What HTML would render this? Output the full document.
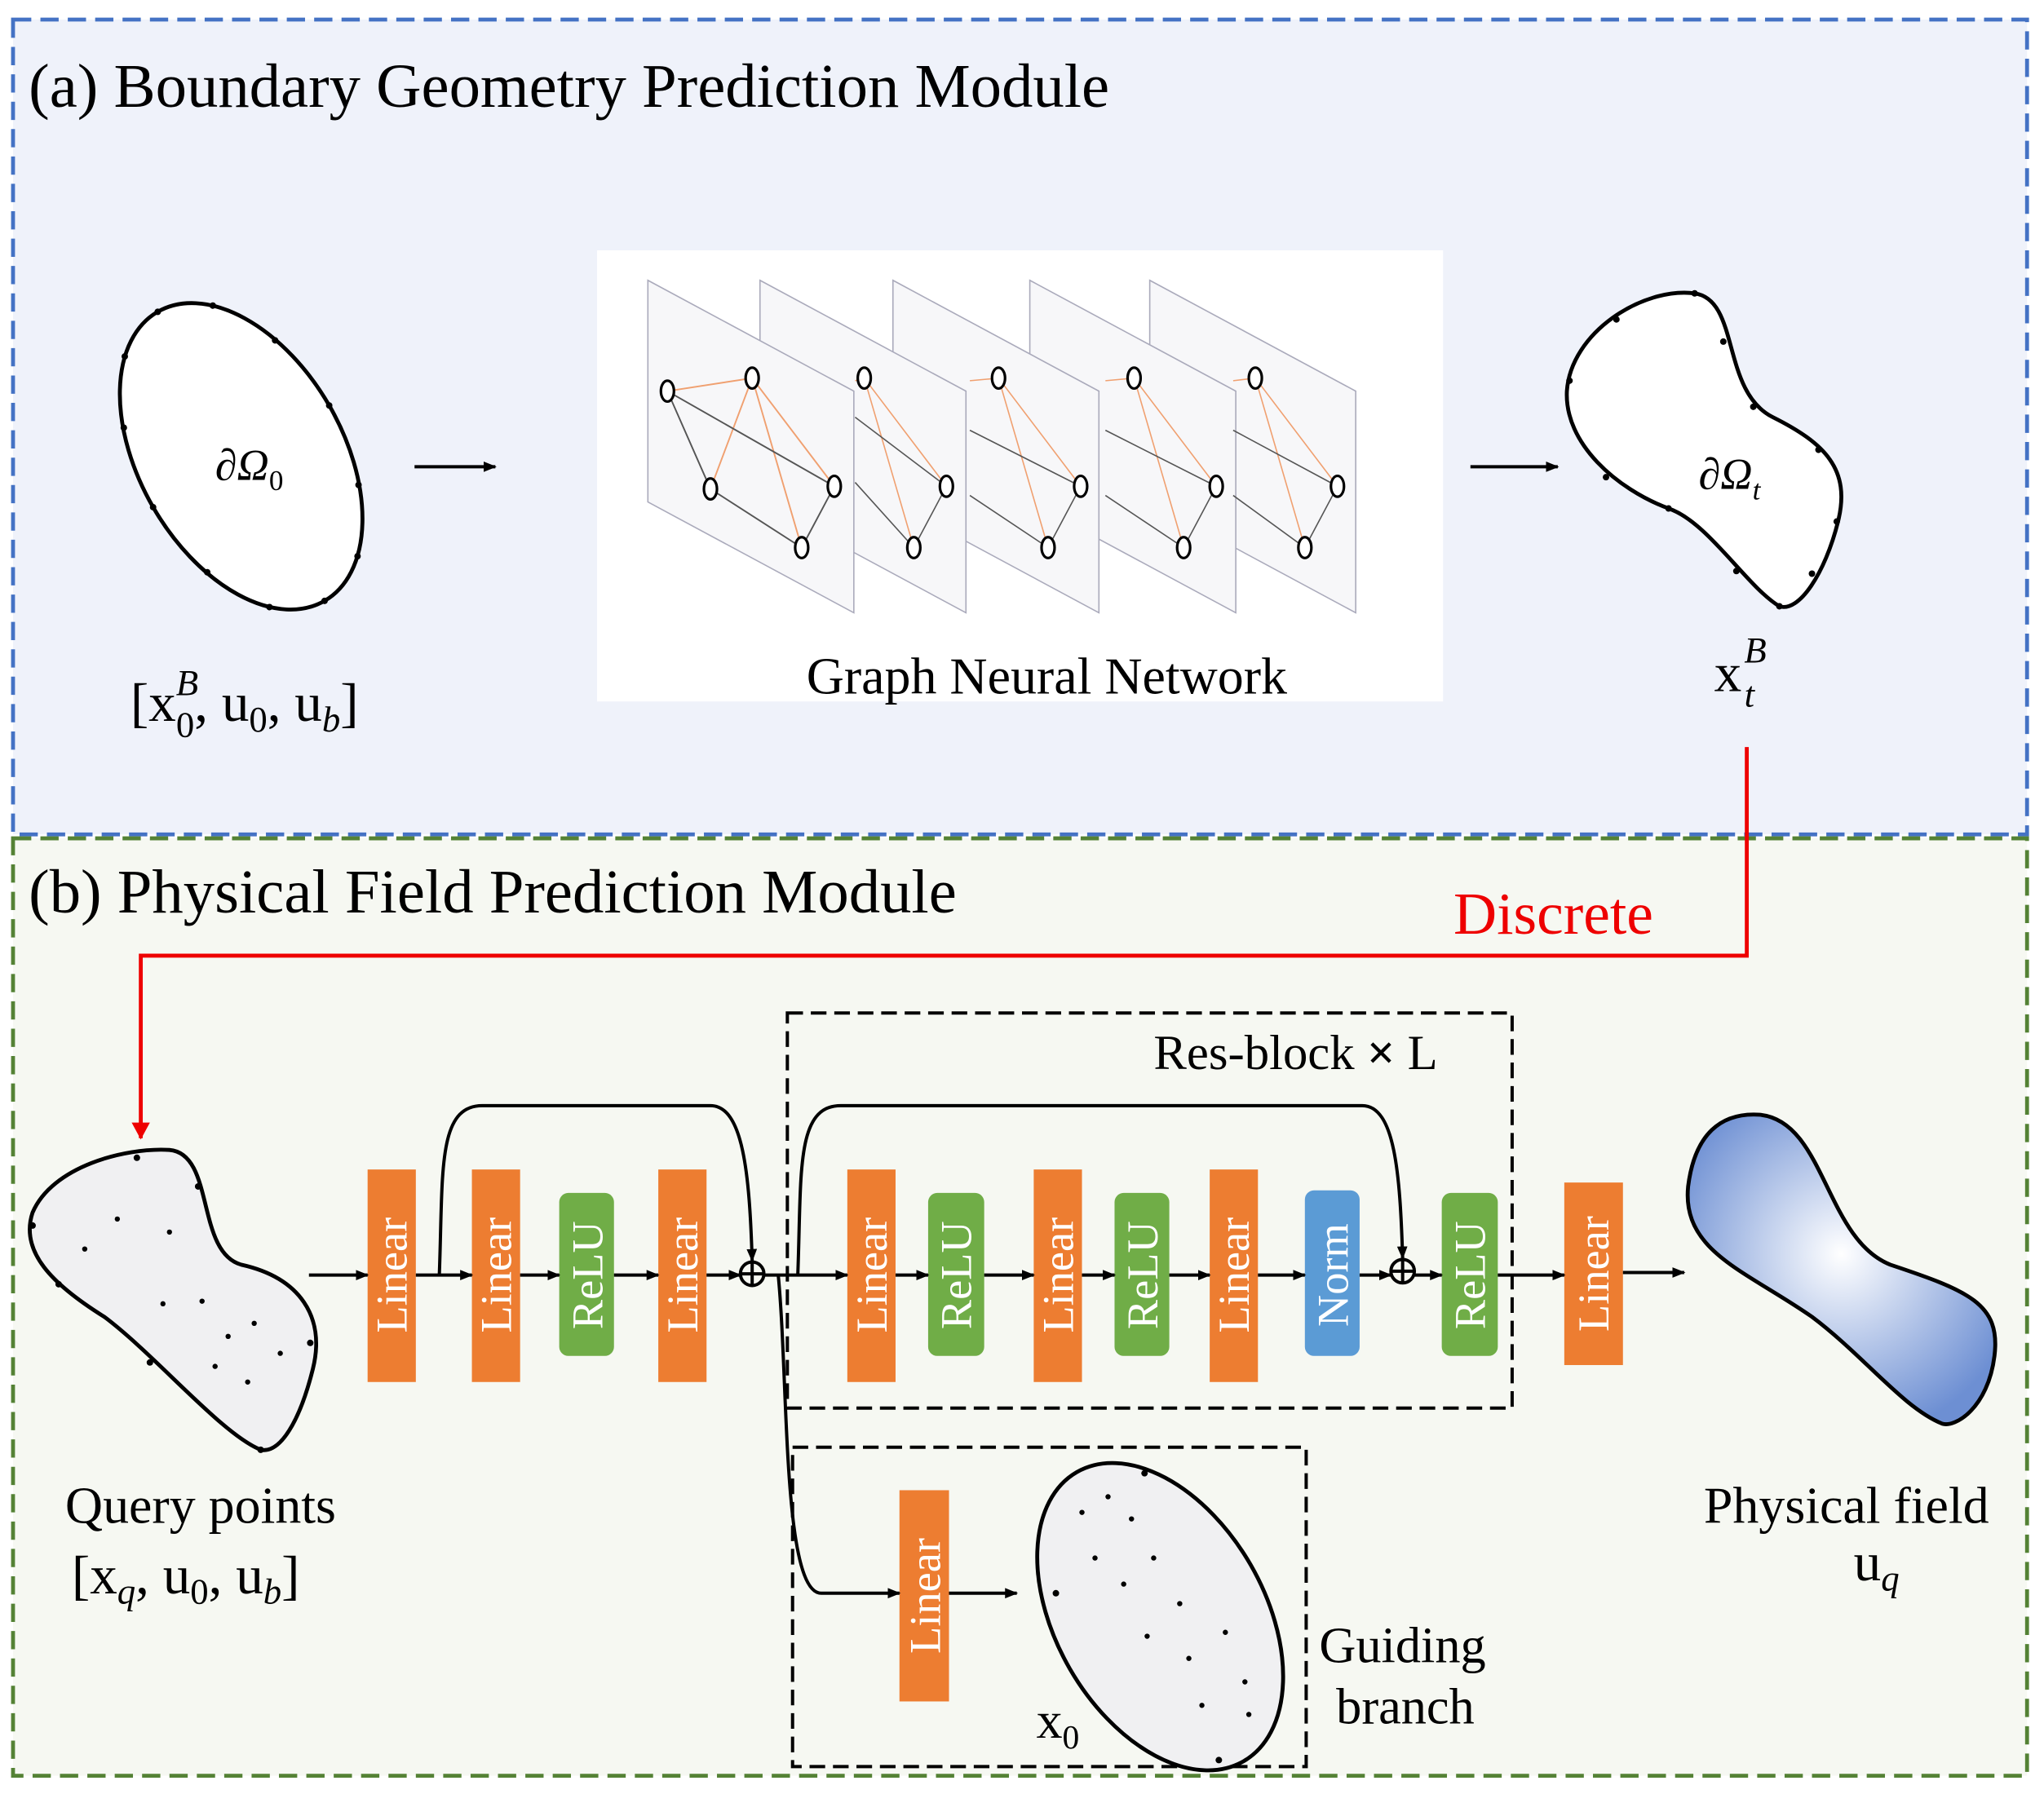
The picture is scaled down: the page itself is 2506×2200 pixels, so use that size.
<!DOCTYPE html>
<html><head><meta charset="utf-8"><style>html,body{margin:0;padding:0;background:#fff}svg{display:block}</style></head><body>
<svg width="2506" height="2200" viewBox="0 0 1568 1376" preserveAspectRatio="none" xmlns="http://www.w3.org/2000/svg" font-family="Liberation Serif, serif">
<defs>
<marker id="ar" markerWidth="10" markerHeight="10" refX="9" refY="5" orient="auto" markerUnits="userSpaceOnUse"><path d="M0,1 L10,5 L0,9 Z" fill="#000"/></marker>
<marker id="arr" markerWidth="14" markerHeight="14" refX="12" refY="7" orient="auto" markerUnits="userSpaceOnUse"><path d="M0,0 L13,7 L0,14 Z" fill="#e00"/></marker>
<radialGradient id="bg" cx="0.5" cy="0.45" r="0.6"><stop offset="0" stop-color="#fff"/><stop offset="1" stop-color="#6d8fd3"/></radialGradient>
</defs>
<rect x="10" y="15" width="1545" height="625" fill="#eff2fa" stroke="#4472c4" stroke-width="3" stroke-dasharray="14,7"/>
<rect x="10" y="643" width="1545" height="719" fill="#f6f8f2" stroke="#548235" stroke-width="3" stroke-dasharray="14,7"/>
<text x="22" y="82" font-size="48">(a) Boundary Geometry Prediction Module</text>
<text x="22" y="700" font-size="48">(b) Physical Field Prediction Module</text>
<!-- left ellipse -->
<g transform="translate(185,350) rotate(-30)">
<ellipse cx="0" cy="0" rx="78" ry="128" fill="#fff" stroke="#000" stroke-width="3"/>
<g fill="#000"><circle cx="78" cy="0" r="2.5"/><circle cx="67" cy="64" r="2.5"/><circle cx="39" cy="111" r="2.5"/><circle cx="0" cy="128" r="2.5"/><circle cx="-39" cy="111" r="2.5"/><circle cx="-67" cy="64" r="2.5"/><circle cx="-78" cy="0" r="2.5"/><circle cx="-67" cy="-64" r="2.5"/><circle cx="-39" cy="-111" r="2.5"/><circle cx="0" cy="-128" r="2.5"/><circle cx="39" cy="-111" r="2.5"/><circle cx="67" cy="-64" r="2.5"/></g>
</g>
<text x="165" y="368" font-size="34" font-style="italic">∂Ω<tspan font-size="22" font-style="normal" dy="8">0</tspan></text>
<text x="100" y="553" font-size="42">[x<tspan font-size="28" dy="-20" font-style="italic">B</tspan><tspan font-size="28" dx="-17" dy="32">0</tspan><tspan dy="-12">, u</tspan><tspan font-size="28" dy="8">0</tspan><tspan dy="-8">, u</tspan><tspan font-size="28" dy="8" font-style="italic">b</tspan><tspan dy="-8">]</tspan></text>
<line x1="318" y1="358" x2="380" y2="358" stroke="#000" stroke-width="2.5" marker-end="url(#ar)"/>
<!-- GNN -->
<rect x="458" y="192" width="649" height="346" fill="#fff"/>
<g stroke="#aab" stroke-width="1" fill="#f7f7f9">
<path d="M882,215 L1040,300 L1040,470 L882,385Z"/>
<path d="M790,215 L948,300 L948,470 L790,385Z"/>
<path d="M685,215 L843,300 L843,470 L685,385Z"/>
<path d="M583,215 L741,300 L741,470 L583,385Z"/>
<path d="M497,215 L655,300 L655,470 L497,385Z"/>
</g>
<g fill="none" stroke-width="1.2">
<path d="M512,300 L577,290 L640,373 M577,290 L545,375 M577,290 L615,420" stroke="#f0a070"/><path d="M512,300 L545,375 L615,420 L640,373 M512,300 L640,373" stroke="#555"/>
<g stroke="#000" stroke-width="2" fill="#fff"><ellipse cx="512" cy="300" rx="5" ry="8"/><ellipse cx="577" cy="290" rx="5" ry="8"/><ellipse cx="545" cy="375" rx="5" ry="8"/><ellipse cx="640" cy="373" rx="5" ry="8"/><ellipse cx="615" cy="420" rx="5" ry="8"/></g>
</g>
<g transform="translate(86,0)"><path d="M570,292 L577,290 L640,373 M577,290 L615,420" stroke="#f0a070" fill="none"/><path d="M570,320 L640,373 L615,420 L570,370" stroke="#555" fill="none"/><g stroke="#000" stroke-width="2" fill="#fff"><ellipse cx="577" cy="290" rx="5" ry="8"/><ellipse cx="640" cy="373" rx="5" ry="8"/><ellipse cx="615" cy="420" rx="5" ry="8"/></g></g>
<g transform="translate(189,0)"><path d="M555,292 L577,290 L640,373 M577,290 L615,420" stroke="#f0a070" fill="none"/><path d="M555,330 L640,373 L615,420 L555,380" stroke="#555" fill="none"/><g stroke="#000" stroke-width="2" fill="#fff"><ellipse cx="577" cy="290" rx="5" ry="8"/><ellipse cx="640" cy="373" rx="5" ry="8"/><ellipse cx="615" cy="420" rx="5" ry="8"/></g></g>
<g transform="translate(293,0)"><path d="M555,292 L577,290 L640,373 M577,290 L615,420" stroke="#f0a070" fill="none"/><path d="M555,330 L640,373 L615,420 L555,380" stroke="#555" fill="none"/><g stroke="#000" stroke-width="2" fill="#fff"><ellipse cx="577" cy="290" rx="5" ry="8"/><ellipse cx="640" cy="373" rx="5" ry="8"/><ellipse cx="615" cy="420" rx="5" ry="8"/></g></g>
<g transform="translate(386,0)"><path d="M560,292 L577,290 L640,373 M577,290 L615,420" stroke="#f0a070" fill="none"/><path d="M560,330 L640,373 L615,420 L560,380" stroke="#555" fill="none"/><g stroke="#000" stroke-width="2" fill="#fff"><ellipse cx="577" cy="290" rx="5" ry="8"/><ellipse cx="640" cy="373" rx="5" ry="8"/><ellipse cx="615" cy="420" rx="5" ry="8"/></g></g>
<text x="803" y="532" font-size="40" text-anchor="middle">Graph Neural Network</text>
<line x1="1128" y1="358" x2="1195" y2="358" stroke="#000" stroke-width="2.5" marker-end="url(#ar)"/>
<!-- right shape -->
<path d="M1300,225 C1335,230 1320,300 1360,320 C1400,340 1420,360 1410,400 C1400,440 1380,470 1365,465 C1340,450 1310,400 1280,390 C1240,375 1200,340 1202,300 C1205,255 1260,220 1300,225Z" fill="#fff" stroke="#000" stroke-width="3"/>
<g fill="#000"><circle cx="1300" cy="225" r="2.5"/><circle cx="1322" cy="262" r="2.5"/><circle cx="1345" cy="312" r="2.5"/><circle cx="1395" cy="345" r="2.5"/><circle cx="1409" cy="400" r="2.5"/><circle cx="1390" cy="440" r="2.5"/><circle cx="1365" cy="465" r="2.5"/><circle cx="1332" cy="438" r="2.5"/><circle cx="1280" cy="390" r="2.5"/><circle cx="1232" cy="366" r="2.5"/><circle cx="1204" cy="292" r="2.5"/><circle cx="1240" cy="245" r="2.5"/></g>
<text x="1303" y="375" font-size="34" font-style="italic">∂Ω<tspan font-size="22" dy="8">t</tspan></text>
<text x="1315" y="530" font-size="42">x<tspan font-size="28" font-style="italic" dy="-22" dx="2">B</tspan><tspan font-size="28" font-style="italic" dx="-17" dy="34">t</tspan></text>
<!-- red -->
<path d="M1340,573 L1340,733 L108,733 L108,873" fill="none" stroke="#e00" stroke-width="3" marker-end="url(#arr)"/>
<text x="1115" y="716" font-size="46" fill="#e00">Discrete</text>
<!-- query blob -->
<path d="M130,882 C165,885 150,960 185,970 C230,980 250,1010 240,1050 C230,1090 215,1115 200,1112 C170,1100 120,1040 80,1010 C40,985 15,960 25,930 C40,895 95,880 130,882Z" fill="#f0f0f2" stroke="#000" stroke-width="3"/>
<g fill="#000"><circle cx="90" cy="935" r="2"/><circle cx="65" cy="958" r="2"/><circle cx="130" cy="945" r="2"/><circle cx="155" cy="998" r="2"/><circle cx="175" cy="1025" r="2"/><circle cx="195" cy="1015" r="2"/><circle cx="215" cy="1038" r="2"/><circle cx="190" cy="1060" r="2"/><circle cx="165" cy="1048" r="2"/><circle cx="125" cy="1000" r="2"/><circle cx="105" cy="888" r="2.5"/><circle cx="152" cy="910" r="2.5"/><circle cx="25" cy="940" r="2.5"/><circle cx="45" cy="985" r="2.5"/><circle cx="115" cy="1045" r="2.5"/><circle cx="238" cy="1030" r="2.5"/><circle cx="200" cy="1112" r="2.5"/></g>
<text x="50" y="1168" font-size="40">Query points</text>
<text x="55" y="1222" font-size="42">[x<tspan font-size="28" font-style="italic" dy="8">q</tspan><tspan dy="-8">, u</tspan><tspan font-size="28" dy="8">0</tspan><tspan dy="-8">, u</tspan><tspan font-size="28" font-style="italic" dy="8">b</tspan><tspan dy="-8">]</tspan></text>
<!-- blocks -->
<g font-size="34" fill="#fff" text-anchor="middle">
<rect x="282" y="897" width="37" height="163" fill="#ed7d31"/><text transform="translate(312,978) rotate(-90)">Linear</text>
<rect x="362" y="897" width="37" height="163" fill="#ed7d31"/><text transform="translate(392,978) rotate(-90)">Linear</text>
<rect x="429" y="915" width="42" height="125" rx="7" fill="#70ad47"/><text transform="translate(462,978) rotate(-90)">ReLU</text>
<rect x="505" y="897" width="37" height="163" fill="#ed7d31"/><text transform="translate(535,978) rotate(-90)">Linear</text>
<rect x="650" y="897" width="37" height="163" fill="#ed7d31"/><text transform="translate(680,978) rotate(-90)">Linear</text>
<rect x="712" y="915" width="43" height="125" rx="7" fill="#70ad47"/><text transform="translate(745,978) rotate(-90)">ReLU</text>
<rect x="793" y="897" width="37" height="163" fill="#ed7d31"/><text transform="translate(823,978) rotate(-90)">Linear</text>
<rect x="855" y="915" width="42" height="125" rx="7" fill="#70ad47"/><text transform="translate(888,978) rotate(-90)">ReLU</text>
<rect x="928" y="897" width="37" height="163" fill="#ed7d31"/><text transform="translate(958,978) rotate(-90)">Linear</text>
<rect x="1001" y="913" width="42" height="127" rx="7" fill="#5b9bd5"/><text transform="translate(1034,978) rotate(-90)">Norm</text>
<rect x="1106" y="915" width="43" height="125" rx="7" fill="#70ad47"/><text transform="translate(1139,978) rotate(-90)">ReLU</text>
<rect x="1200" y="907" width="45" height="140" fill="#ed7d31"/><text transform="translate(1234,977) rotate(-90)">Linear</text>
<rect x="690" y="1143" width="38" height="162" fill="#ed7d31"/><text transform="translate(721,1224) rotate(-90)">Linear</text>
</g>
<g stroke="#000" stroke-width="2.5" fill="none">
<line x1="237" y1="978" x2="282" y2="978" marker-end="url(#ar)"/>
<line x1="319" y1="978" x2="362" y2="978" marker-end="url(#ar)"/>
<line x1="399" y1="978" x2="429" y2="978" marker-end="url(#ar)"/>
<line x1="471" y1="978" x2="505" y2="978" marker-end="url(#ar)"/>
<line x1="542" y1="978" x2="568" y2="978" marker-end="url(#ar)"/>
<line x1="586" y1="978" x2="650" y2="978" marker-end="url(#ar)"/>
<line x1="687" y1="978" x2="712" y2="978" marker-end="url(#ar)"/>
<line x1="755" y1="978" x2="793" y2="978" marker-end="url(#ar)"/>
<line x1="830" y1="978" x2="855" y2="978" marker-end="url(#ar)"/>
<line x1="897" y1="978" x2="928" y2="978" marker-end="url(#ar)"/>
<line x1="965" y1="978" x2="1001" y2="978" marker-end="url(#ar)"/>
<line x1="1043" y1="978" x2="1067" y2="978" marker-end="url(#ar)"/>
<line x1="1085" y1="978" x2="1106" y2="978" marker-end="url(#ar)"/>
<line x1="1149" y1="978" x2="1200" y2="978" marker-end="url(#ar)"/>
<line x1="1245" y1="976" x2="1292" y2="976" marker-end="url(#ar)"/>
<path d="M337,978 C340,900 335,848 370,848 L545,848 C570,848 575,900 577,967" marker-end="url(#ar)"/>
<path d="M612,978 C615,900 610,848 645,848 L1045,848 C1070,848 1074,900 1076,965" marker-end="url(#ar)"/>
<path d="M597,978 C605,1060 600,1222 630,1222 L690,1222" marker-end="url(#ar)"/>
<line x1="728" y1="1222" x2="780" y2="1222" marker-end="url(#ar)"/>
<circle cx="577" cy="977" r="9"/><path d="M568,977 H586 M577,968 V986"/>
<circle cx="1076" cy="975" r="9"/><path d="M1067,975 H1085 M1076,966 V984"/>
</g>
<rect x="604" y="777" width="556" height="303" fill="none" stroke="#000" stroke-width="2.5" stroke-dasharray="12,6"/>
<text x="885" y="820" font-size="38">Res-block <tspan font-weight="bold">×</tspan> L</text>
<rect x="608" y="1110" width="394" height="245" fill="none" stroke="#000" stroke-width="2.5" stroke-dasharray="12,6"/>
<ellipse cx="890" cy="1240" rx="80" ry="128" transform="rotate(-30 890 1240)" fill="#f0f0f2" stroke="#000" stroke-width="3"/>
<g fill="#000"><circle cx="830" cy="1160" r="2"/><circle cx="850" cy="1148" r="2"/><circle cx="868" cy="1165" r="2"/><circle cx="840" cy="1195" r="2"/><circle cx="862" cy="1215" r="2"/><circle cx="885" cy="1195" r="2"/><circle cx="905" cy="1230" r="2"/><circle cx="880" cy="1255" r="2"/><circle cx="940" cy="1252" r="2"/><circle cx="912" cy="1272" r="2"/><circle cx="955" cy="1290" r="2"/><circle cx="922" cy="1308" r="2"/><circle cx="958" cy="1315" r="2"/><circle cx="878" cy="1130" r="2.5"/><circle cx="810" cy="1222" r="2.5"/><circle cx="935" cy="1350" r="2.5"/></g>
<text x="795" y="1333" font-size="40">x<tspan font-size="26" dy="8">0</tspan></text>
<text x="1012" y="1275" font-size="39">Guiding</text>
<text x="1025" y="1322" font-size="39">branch</text>
<!-- output blob -->
<path d="M1350,855 C1400,860 1400,950 1450,970 C1510,990 1535,1000 1530,1040 C1525,1080 1500,1095 1490,1092 C1460,1080 1430,1040 1390,1010 C1340,975 1290,960 1295,910 C1300,870 1320,853 1350,855Z" fill="url(#bg)" stroke="#000" stroke-width="3"/>
<text x="1307" y="1168" font-size="40">Physical field</text>
<text x="1422" y="1212" font-size="42">u<tspan font-size="28" font-style="italic" dy="8">q</tspan></text>
</svg>
</body></html>
